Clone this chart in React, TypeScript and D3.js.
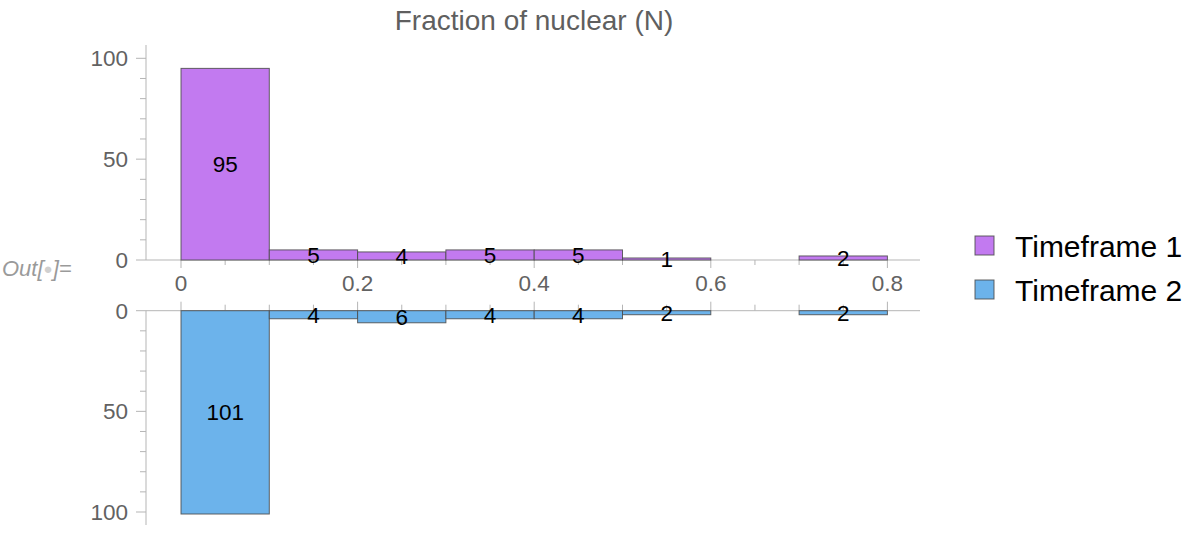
import React from "react";
import * as d3 from "d3";

const binEdges = [0, 0.1, 0.2, 0.3, 0.4, 0.5, 0.6, 0.7, 0.8];
const timeframe1 = [95, 5, 4, 5, 5, 1, 0, 2];
const timeframe2 = [101, 4, 6, 4, 4, 2, 0, 2];
const seriesNames = ["Timeframe 1", "Timeframe 2"];
const xTickValues = [0, 0.2, 0.4, 0.6, 0.8];
const yTickValues = [0, 50, 100];
const title = "Fraction of nuclear (N)";

const colors = ["#c27af0", "#6cb3eb"];
const FONT = "'Liberation Sans', Arial, Helvetica, sans-serif";
const axisColor = "#b5b5b5";
const tickText = "#626262";

export default function App() {
  const x = d3.scaleLinear().domain([0, 0.8]).range([181, 887.4]);
  const yTop = d3.scaleLinear().domain([0, 100]).range([260, 58.3]);
  const yBot = d3.scaleLinear().domain([0, 100]).range([310.7, 512]);
  const xMinor = d3.range(0, 0.801, 0.05).map((v) => Math.round(v * 100) / 100);
  const yMinor = d3.range(0, 101, 10);
  const axisLeft = 146;
  const axisRight = 920;

  const bars = (vals: number[], y: d3.ScaleLinear<number, number>, ci: number) =>
    vals.map((v, i) => {
      if (v === 0) return null;
      const x0 = x(binEdges[i]);
      const x1 = x(binEdges[i + 1]);
      const ya = y(0);
      const yb = y(v);
      return (
        <rect
          key={`b${ci}-${i}`}
          x={x0}
          y={Math.min(ya, yb)}
          width={x1 - x0}
          height={Math.abs(yb - ya)}
          fill={colors[ci]}
          stroke="#4a4a4a"
          strokeOpacity={0.85}
          strokeWidth={1}
        />
      );
    });

  const labels = (vals: number[], y: d3.ScaleLinear<number, number>, ci: number) =>
    vals.map((v, i) => {
      if (v === 0) return null;
      const cx = x((binEdges[i] + binEdges[i + 1]) / 2);
      const cy = (y(0) + y(v)) / 2;
      return (
        <text key={`l${ci}-${i}`} x={cx} y={cy} dy="0.35em" textAnchor="middle" fontSize={22.5} fill="#000">
          {v}
        </text>
      );
    });

  return (
    <svg width={1200} height={540} style={{ position: "absolute", left: 0, top: 0, background: "#fff" }} fontFamily={FONT}>
      <text x={534} y={30} textAnchor="middle" fontSize={28} fill="#5f5f5f">
        {title}
      </text>

      <text x={2} y={276} fontSize={22} fontStyle="italic" fill="#9a9a9a">
        Out[<tspan fill="#d0d0d0" fontStyle="normal" fontSize={15} dy={-2}>●</tspan>
        <tspan dy={2}>]=</tspan>
      </text>

      <line x1={axisLeft} x2={axisRight} y1={yTop(0)} y2={yTop(0)} stroke={axisColor} />
      <line x1={axisLeft} x2={axisLeft} y1={45} y2={yTop(0)} stroke={axisColor} />
      <line x1={axisLeft} x2={axisRight} y1={yBot(0)} y2={yBot(0)} stroke={axisColor} />
      <line x1={axisLeft} x2={axisLeft} y1={yBot(0)} y2={525} stroke={axisColor} />

      {xMinor.map((v) => {
        const major = xTickValues.some((t) => Math.abs(t - v) < 1e-6);
        return (
          <g key={`xt${v}`}>
            <line x1={x(v)} x2={x(v)} y1={yTop(0)} y2={yTop(0) + (major ? 8 : 5)} stroke={axisColor} />
            <line x1={x(v)} x2={x(v)} y1={yBot(0)} y2={yBot(0) - (major ? 9 : 6)} stroke={axisColor} />
          </g>
        );
      })}
      {xTickValues.map((v) => (
        <text key={`xl${v}`} x={x(v)} y={291} textAnchor="middle" fontSize={22.5} fill={tickText}>
          {d3.format("")(v)}
        </text>
      ))}

      {yMinor.map((v) => {
        const major = yTickValues.includes(v);
        return (
          <g key={`yt${v}`}>
            <line x1={axisLeft - (major ? 10 : 6)} x2={axisLeft} y1={yTop(v)} y2={yTop(v)} stroke={axisColor} />
            <line x1={axisLeft - (major ? 10 : 6)} x2={axisLeft} y1={yBot(v)} y2={yBot(v)} stroke={axisColor} />
          </g>
        );
      })}
      {yTickValues.map((v) => (
        <g key={`yl${v}`}>
          <text x={128} y={yTop(v)} dy="0.35em" textAnchor="end" fontSize={22.5} fill={tickText}>
            {v}
          </text>
          <text x={128} y={yBot(v)} dy="0.35em" textAnchor="end" fontSize={22.5} fill={tickText}>
            {v}
          </text>
        </g>
      ))}

      {bars(timeframe1, yTop, 0)}
      {bars(timeframe2, yBot, 1)}
      {labels(timeframe1, yTop, 0)}
      {labels(timeframe2, yBot, 1)}

      {seriesNames.map((name, i) => {
        const cy = 246 + i * 44;
        return (
          <g key={name}>
            <rect x={975} y={cy - 10} width={19} height={19} fill={colors[i]} stroke="#4a4a4a" strokeOpacity={0.85} />
            <text x={1015} y={cy} dy="0.35em" fontSize={30} fill="#000">
              {name}
            </text>
          </g>
        );
      })}
    </svg>
  );
}
